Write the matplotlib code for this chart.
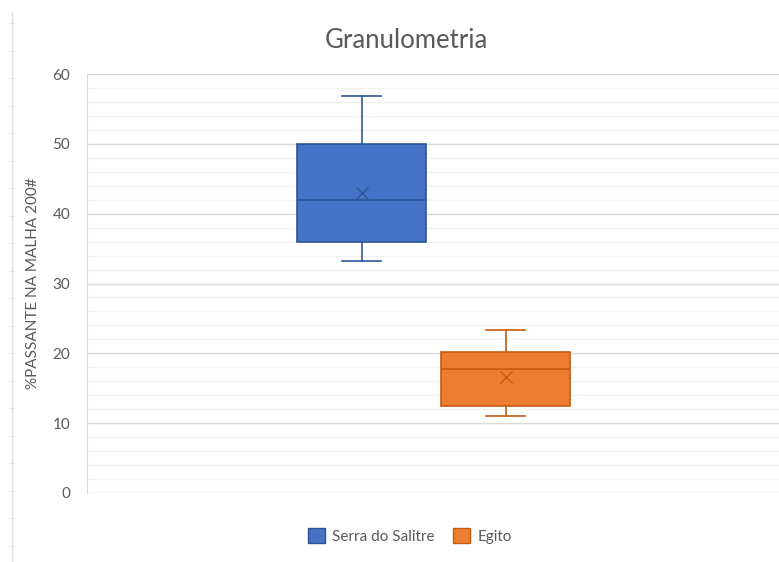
import matplotlib
matplotlib.use("Agg")
import matplotlib.pyplot as plt
from matplotlib.lines import Line2D
from matplotlib.patches import Patch

plt.rcParams['font.family'] = ['Lato', 'DejaVu Sans']

# ==== DATA ====
series = ["Serra do Salitre", "Egito"]
whis_low = [33.2, 11.0]
q1 = [36.0, 12.5]
median = [42.0, 17.8]
mean = [43.0, 16.6]
q3 = [50.0, 20.2]
whis_high = [56.9, 23.4]
colors = ["#4472C4", "#ED7D31"]
edge_colors = ["#2F5597", "#C55A11"]

TEXT = "#595959"
GRID = "#D9D9D9"
MINOR = "#F2F2F2"

fig = plt.figure(figsize=(7.79, 5.62), dpi=100)
ax = fig.add_axes([87 / 779, 69 / 562, 692 / 779, 419 / 562])

# sheet ruler line on the far left
fig.add_artist(Line2D([12 / 779, 12 / 779], [0, 550 / 562], color="#E3E3E3", lw=1))
for k in range(20):
    yy = 1 - (23 + 27.5 * k) / 562
    if yy < 0:
        break
    fig.add_artist(Line2D([10 / 779, 14 / 779], [yy, yy], color="#E3E3E3", lw=0.8))

stats = []
for i in range(len(series)):
    stats.append({
        "label": series[i],
        "whislo": whis_low[i], "q1": q1[i], "med": median[i],
        "q3": q3[i], "whishi": whis_high[i], "mean": mean[i], "fliers": [],
    })

positions = [0.397, 0.605]
width = 0.186
for i, st in enumerate(stats):
    ax.bxp([st], positions=[positions[i]], widths=width, showmeans=True,
           patch_artist=True, showfliers=False,
           boxprops=dict(facecolor=colors[i], edgecolor=edge_colors[i], lw=1.2),
           medianprops=dict(color=edge_colors[i], lw=1.2),
           whiskerprops=dict(color=edge_colors[i], lw=1.2),
           capprops=dict(color=edge_colors[i], lw=1.2),
           capwidths=width * 0.3,
           meanprops=dict(marker="x", markeredgecolor=edge_colors[i], markersize=9,
                          markeredgewidth=1.0))

ax.set_xlim(0, 1)
ax.set_ylim(0, 60)
ax.set_yticks(range(0, 61, 10))
ax.set_yticks(range(0, 61, 2), minor=True)
ax.set_xticks([])
ax.grid(axis="y", which="major", color=GRID, lw=1)
ax.grid(axis="y", which="minor", color=MINOR, lw=1)
ax.set_axisbelow(True)
for s in ["top", "right", "bottom"]:
    ax.spines[s].set_visible(False)
ax.spines["left"].set_color(GRID)
ax.tick_params(axis="y", which="both", length=0, colors=TEXT, labelsize=11, pad=12)

fig.text(406 / 779, 1 - 40 / 562, "Granulometria", ha="center", va="center",
         fontsize=18.5, color=TEXT)
fig.text(33 / 779, 1 - 283 / 562, "%PASSANTE NA MALHA 200#", rotation=90,
         ha="center", va="center", color=TEXT, fontsize=11)

handles = [Patch(facecolor=colors[i], edgecolor=edge_colors[i], label=series[i])
           for i in range(len(series))]
fig.legend(handles=handles, loc="center", bbox_to_anchor=(410 / 779, 1 - 536 / 562),
           ncol=2, frameon=False, fontsize=11, labelcolor=TEXT,
           handlelength=1.1, handleheight=1.1, handletextpad=0.5, columnspacing=1.2)

fig.savefig("out.png", dpi=100)
